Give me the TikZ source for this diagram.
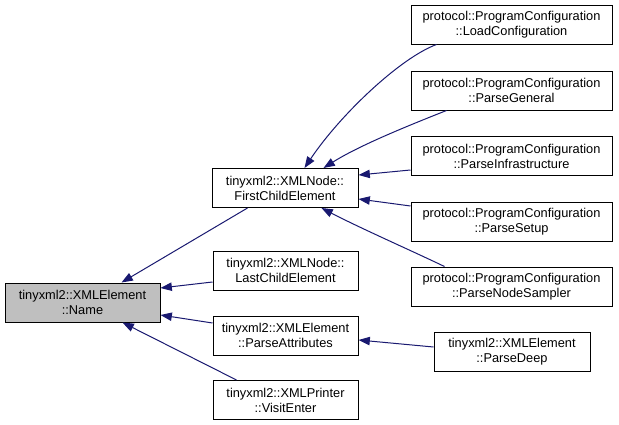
\documentclass[tikz,border=0pt]{standalone}
\usepackage{fontspec}
\setmainfont{Liberation Sans}
\usetikzlibrary{arrows.meta,calc}
\definecolor{edgeblue}{HTML}{191970}
\definecolor{hlgrey}{HTML}{BFBFBF}
\begin{document}
\begin{tikzpicture}[x=0.75pt,y=-0.75pt,
  fn/.style={draw=black,line width=0.75pt,fill=white,align=center,inner sep=0pt,
    minimum height=39*0.75pt,font=\fontsize{9.6}{11.2}\selectfont},
  cur/.style={fn,fill=hlgrey},
  call/.style={draw=edgeblue,line width=0.75pt,-{Triangle[length=8.5pt,width=6.3pt]}}]
\useasboundingbox (0,0) rectangle (619,425);
\node[cur,minimum width=155*0.75pt] (name) at (82.5,302.5) {tinyxml2::XMLElement\\::Name};
\node[fn,minimum width=146*0.75pt] (fce) at (285,188) {tinyxml2::XMLNode::\\FirstChildElement};
\node[fn,minimum width=145*0.75pt] (lce) at (285.5,270.5) {tinyxml2::XMLNode::\\LastChildElement};
\node[fn,minimum width=145*0.75pt] (pa) at (285.5,335.5) {tinyxml2::XMLElement\\::ParseAttributes};
\node[fn,minimum width=145*0.75pt] (ve) at (285.5,400) {tinyxml2::XMLPrinter\\::VisitEnter};
\node[fn,minimum width=201*0.75pt] (load) at (511.5,24.5) {protocol::ProgramConfiguration\\::LoadConfiguration};
\node[fn,minimum width=201*0.75pt] (gen) at (511.5,90.5) {protocol::ProgramConfiguration\\::ParseGeneral};
\node[fn,minimum width=201*0.75pt] (infra) at (511.5,156) {protocol::ProgramConfiguration\\::ParseInfrastructure};
\node[fn,minimum width=201*0.75pt] (setup) at (511.5,221.5) {protocol::ProgramConfiguration\\::ParseSetup};
\node[fn,minimum width=201*0.75pt] (sampler) at (511.5,286.5) {protocol::ProgramConfiguration\\::ParseNodeSampler};
\node[fn,minimum width=156*0.75pt] (pd) at (512,352) {tinyxml2::XMLElement\\::ParseDeep};
% edges into Name
\draw[call] ($(fce.south west)+(36,0)$) -- ($(name.north west)+(117,0)$);
\draw[call] ($(lce.west)+(0,11.5)$) -- ($(name.east)+(0,-14.5)$);
\draw[call] ($(pa.west)+(0,-12.5)$) -- ($(name.east)+(0,12.5)$);
\draw[call] ($(ve.north west)+(24,0)$) -- ($(name.south west)+(118,0)$);
% edge into ParseAttributes
\draw[call] ($(pd.west)+(0,-5)$) -- ($(pa.east)+(0,4.5)$);
% edges into FirstChildElement
\draw[call] ($(load.south west)+(26,0)$) .. controls (400,58) and (340,115) .. ($(fce.north west)+(93,0)$);
\draw[call] ($(gen.south west)+(36,0)$) .. controls (410,125) and (360,145) .. ($(fce.north west)+(112,0)$);
\draw[call] ($(infra.west)+(0,14)$) -- ($(fce.east)+(0,-13)$);
\draw[call] ($(setup.west)+(0,-15.5)$) -- ($(fce.east)+(0,11)$);
\draw[call] ($(sampler.north west)+(34,0)$) .. controls (410,250) and (360,228) .. ($(fce.south west)+(110,0)$);
\end{tikzpicture}
\end{document}
